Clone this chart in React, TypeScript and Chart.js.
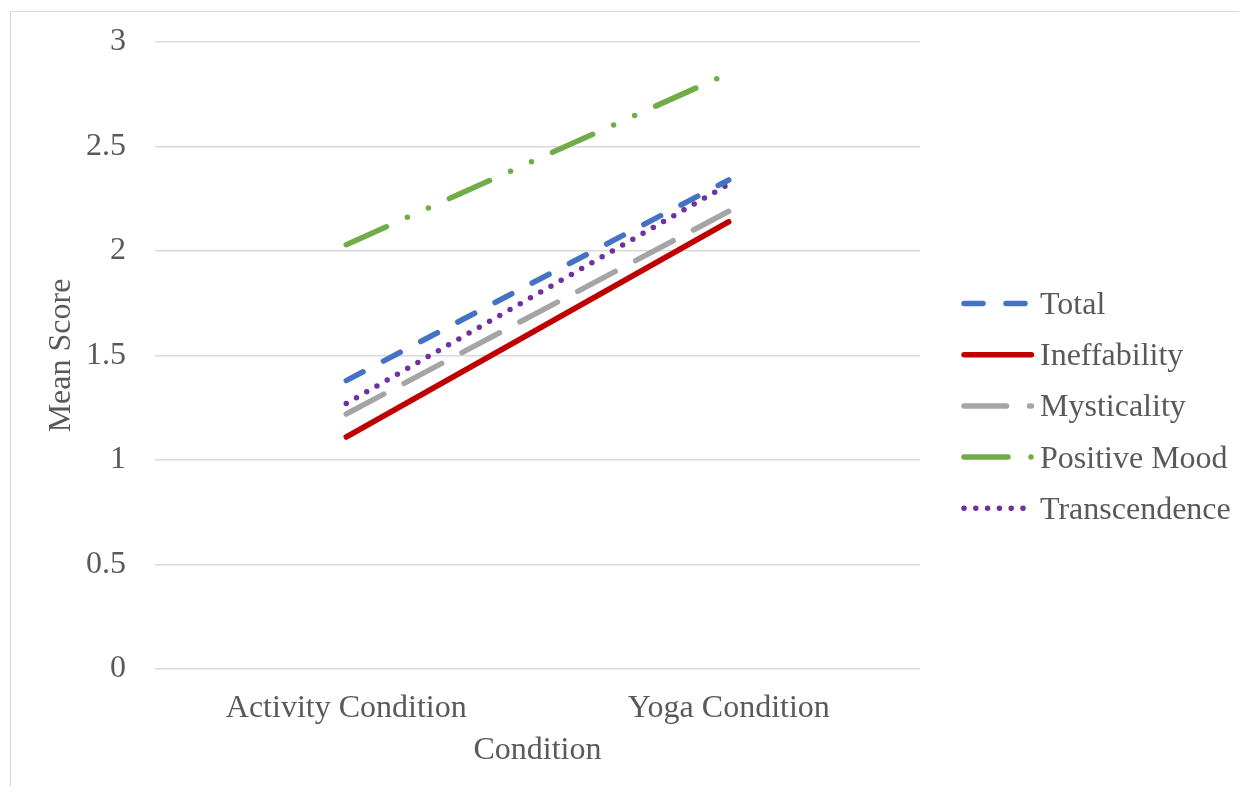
import React, { useEffect, useRef } from "react";
import { Chart, registerables } from "chart.js";

Chart.register(...registerables);

const categories = ["Activity Condition", "Yoga Condition"];
const seriesNames = ["Total", "Ineffability", "Mysticality", "Positive Mood", "Transcendence"];
const totalValues = [1.38, 2.34];
const ineffabilityValues = [1.11, 2.14];
const mysticalityValues = [1.22, 2.19];
const positiveMoodValues = [2.03, 2.85];
const transcendenceValues = [1.27, 2.32];
const yTickValues = [0, 0.5, 1, 1.5, 2, 2.5, 3];

const FONT = "'Liberation Serif', 'Times New Roman', serif";
const TEXT = "#595959";
const LW = 5.5;

const styles = [
  { color: "#4472C4", dash: [19, 23] },
  { color: "#C00000", dash: [] as number[] },
  { color: "#A5A5A5", dash: [42.5, 23] },
  { color: "#70AD47", dash: [44, 23, 0, 23, 0, 23] },
  { color: "#7030A0", dash: [0, 11.8] },
];

const legendPlugin = {
  id: "customLegend",
  afterDraw(chart: any) {
    const ctx = chart.ctx;
    const x0 = 956;
    const x1 = 1023.5;
    const tx = 1032;
    const y0 = 295.5;
    const step = 51.2;
    chart.data.datasets.forEach((ds: any, i: number) => {
      const y = y0 + i * step;
      ctx.save();
      ctx.strokeStyle = ds.borderColor;
      ctx.lineWidth = LW;
      ctx.lineCap = "round";
      ctx.setLineDash(ds.borderDash || []);
      ctx.beginPath();
      ctx.moveTo(x0, y);
      ctx.lineTo(x1, y);
      ctx.stroke();
      ctx.setLineDash([]);
      ctx.fillStyle = TEXT;
      ctx.font = `32px ${FONT}`;
      ctx.textAlign = "left";
      ctx.textBaseline = "alphabetic";
      ctx.fillText(ds.label, tx, y + 10.5);
      ctx.restore();
    });
  },
};

export default function App() {
  const canvasRef = useRef<HTMLCanvasElement | null>(null);

  useEffect(() => {
    if (!canvasRef.current) return;
    const seriesValues = [totalValues, ineffabilityValues, mysticalityValues, positiveMoodValues, transcendenceValues];
    const chart = new Chart(canvasRef.current, {
      type: "line",
      data: {
        labels: categories,
        datasets: seriesNames.map((name, i) => ({
          label: name,
          data: seriesValues[i],
          borderColor: styles[i].color,
          backgroundColor: styles[i].color,
          borderWidth: LW,
          borderDash: styles[i].dash,
          borderCapStyle: "round" as const,
          pointRadius: 0,
          pointHoverRadius: 0,
          fill: false,
          tension: 0,
        })),
      },
      options: {
        animation: false,
        responsive: true,
        maintainAspectRatio: false,
        layout: { autoPadding: false, padding: { top: 34, right: 327, left: 0, bottom: 0 } },
        plugins: {
          legend: { display: false },
          tooltip: { enabled: false },
        },
        scales: {
          x: {
            offset: true,
            grid: { display: false, drawTicks: false },
            border: { display: false },
            ticks: {
              color: TEXT,
              font: { family: FONT, size: 32 },
              padding: 20,
              maxRotation: 0,
            },
            title: {
              display: true,
              text: "Condition",
              color: TEXT,
              font: { family: FONT, size: 32 },
              padding: { top: 0, bottom: 16 },
            },
            afterFit(scale: any) {
              scale.height = 117;
            },
          },
          y: {
            min: 0,
            max: 3,
            afterBuildTicks(scale: any) {
              scale.ticks = yTickValues.map((v) => ({ value: v }));
            },
            grid: { color: "#D9D9D9", lineWidth: 1.5, drawTicks: false },
            border: { display: false },
            ticks: {
              color: TEXT,
              font: { family: FONT, size: 32 },
              padding: 29,
              callback: (v: any) => String(v),
            },
            title: {
              display: true,
              text: "Mean Score",
              color: TEXT,
              font: { family: FONT, size: 32 },
              padding: { top: 34, bottom: 0 },
            },
            afterFit(scale: any) {
              scale.width = 147;
              scale.paddingTop = 20;
              scale.paddingBottom = 20;
            },
          },
        },
      },
      plugins: [legendPlugin],
    });
    return () => chart.destroy();
  }, []);

  return (
    <div style={{ position: "relative", width: 1239, height: 778 }}>
      <div
        style={{
          position: "absolute",
          left: 2,
          top: 3,
          right: 0,
          bottom: 0,
          borderLeft: "1.5px solid #D9D9D9",
          borderTop: "1.5px solid #D9D9D9",
        }}
      />
      <div style={{ position: "absolute", left: 0, top: 0, width: 1239, height: 778 }}>
        <canvas ref={canvasRef} />
      </div>
    </div>
  );
}
